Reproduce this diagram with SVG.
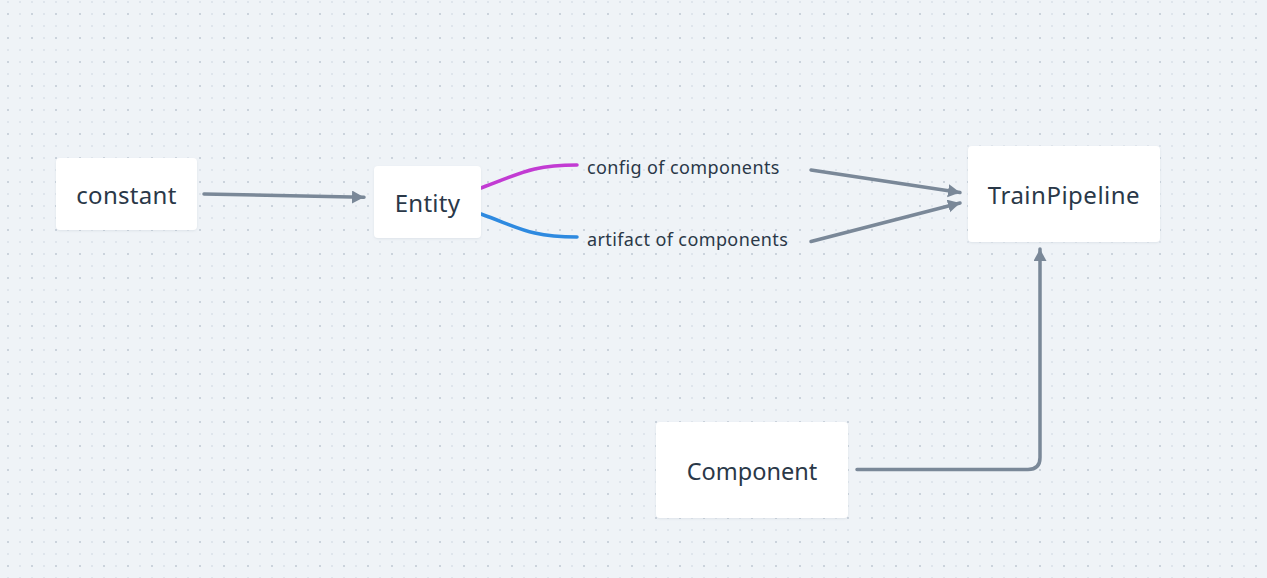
<svg xmlns="http://www.w3.org/2000/svg" width="1267" height="578" viewBox="0 0 1267 578">
  <defs>
    <pattern id="dots" x="0" y="0" width="24" height="24" patternUnits="userSpaceOnUse">
      <rect x="7" y="1" width="2" height="2" fill="#dfe5ec"/>
      <rect x="19" y="1" width="2" height="2" fill="#dfe5ec"/>
      <rect x="7" y="13" width="2" height="2" fill="#cbd3dc"/>
      <rect x="19" y="13" width="2" height="2" fill="#dfe5ec"/>
    </pattern>
    <marker id="arrow" markerUnits="userSpaceOnUse" markerWidth="14" markerHeight="14" refX="12" refY="6.5" orient="auto">
      <path d="M0,0 L12,6.5 L0,13 Z" fill="#7a8898"/>
    </marker>
    <filter id="shadow" x="-10%" y="-10%" width="120%" height="130%">
      <feDropShadow dx="0" dy="1" stdDeviation="1.2" flood-color="#8a99ab" flood-opacity="0.18"/>
    </filter>
  </defs>
  <style>
    .node rect { fill: #ffffff; filter: url(#shadow); }
    .node text { font-family: "Noto Sans", "Open Sans", sans-serif; font-size: 24px; fill: #2a3848; text-anchor: middle; letter-spacing: 0.3px; }
    .label { font-family: "Noto Sans", "Open Sans", sans-serif; font-size: 18px; fill: #2a3848; letter-spacing: 0.4px; }
    .edge { fill: none; stroke: #7a8898; stroke-width: 3.5; stroke-linecap: round; }
    .curve { fill: none; stroke-width: 3.5; stroke-linecap: round; }
  </style>
  <rect width="1267" height="578" fill="#eff3f7"/>
  <rect width="1267" height="578" fill="url(#dots)"/>

  <g id="connectors">
    <path class="edge" d="M204,194 L364,197.3" marker-end="url(#arrow)"/>
    <path class="curve" stroke="#c23bd3" d="M481,188 C520,174 530,165 577,165"/>
    <path class="curve" stroke="#2e8ae0" d="M481,214 C520,228 530,237 577,237"/>
    <path class="edge" d="M811,170 L960,192.5" marker-end="url(#arrow)"/>
    <path class="edge" d="M811,241.5 L960,203" marker-end="url(#arrow)"/>
    <path class="edge" d="M857,469.5 L1028,469.5 Q1040,469.5 1040,457.5 L1040,249" marker-end="url(#arrow)"/>
  </g>

  <g id="node-constant" class="node">
    <rect x="56" y="158" width="141" height="72" rx="4"/>
    <text x="126.5" y="204">constant</text>
  </g>
  <g id="node-entity" class="node">
    <rect x="374" y="166" width="107" height="72" rx="4"/>
    <text x="427.5" y="212">Entity</text>
  </g>
  <g id="node-trainpipeline" class="node">
    <rect x="968" y="146" width="192" height="96" rx="4"/>
    <text x="1064" y="204" style="letter-spacing:0.5px">TrainPipeline</text>
  </g>
  <g id="node-component" class="node">
    <rect x="656" y="422" width="192" height="96" rx="4"/>
    <text x="752" y="480" style="font-size:23.5px;letter-spacing:0">Component</text>
  </g>

  <g id="labels">
    <text class="label" x="587" y="173.5">config of components</text>
    <text class="label" x="587" y="245.5">artifact of components</text>
  </g>
</svg>
